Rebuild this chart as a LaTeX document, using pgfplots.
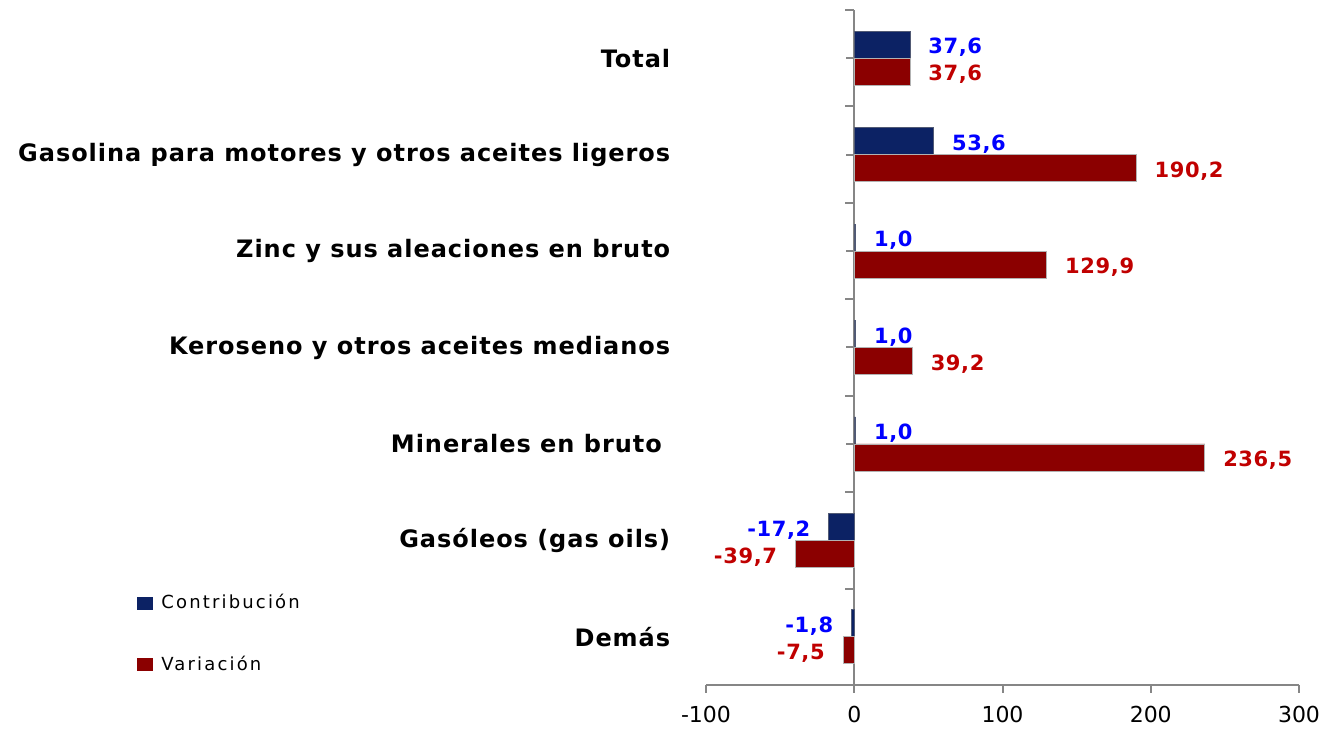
\documentclass[border=0pt]{standalone}
\usepackage{fontspec}
\setmainfont{DejaVu Sans}
\newfontfamily\catfont[LetterSpace=4]{DejaVu Sans}
\newfontfamily\legfont[LetterSpace=12]{DejaVu Sans}
\newfontfamily\valfont[LetterSpace=3]{DejaVu Sans}
\usepackage{pgfplots}
\pgfplotsset{compat=1.18}
\definecolor{barblue}{RGB}{12,34,100}
\definecolor{barred}{RGB}{139,0,0}
\definecolor{lblblue}{RGB}{0,0,255}
\definecolor{lblred}{RGB}{192,0,0}
\definecolor{axgray}{RGB}{134,134,134}

\begin{document}
\begin{tikzpicture}
\begin{axis}[
    scale only axis,
    width=296.5pt, height=337.5pt,
    xbar, bar width=13.5pt,
    xmin=-100, xmax=300,
    ymin=-0.5, ymax=6.5,
    clip=false,
    axis x line*=bottom,
    axis y line*=center,
    hide obscured x ticks=false,
    hide obscured y ticks=false,
    axis line style={axgray, line width=1pt},
    every tick/.style={axgray, line width=1pt},
    tick align=outside,
    major tick length=4pt,
    minor tick length=4.5pt,
    xtick={-100,0,100,200,300},
    ytick={0,...,6},
    minor ytick={-0.5,0.5,...,6.5},
    yticklabels={Demás, Gasóleos (gas oils), Minerales en bruto\kern0.35em, Keroseno y otros aceites medianos, Zinc y sus aleaciones en bruto, Gasolina para motores y otros aceites ligeros, Total},
    yticklabel style={font=\catfont\bfseries\fontsize{12}{14}\selectfont, anchor=east, xshift=-84.5pt},
    xticklabel style={font=\fontsize{11}{12}\selectfont, yshift=-3pt},
    /pgf/number format/assume math mode=true,
    nodes near coords={\pgfmathprintnumber[fixed,fixed zerofill,precision=1,use comma,assume math mode=true]{\pgfplotspointmeta}},
    nodes near coords align={horizontal},
    every node near coord/.append style={font=\valfont\bfseries\fontsize{10.5}{12}\selectfont, inner xsep=9pt, yshift=-1.5pt},
    legend style={at={(rel axis cs:-0.9595,0.0756)}, anchor=west, draw=none, fill=none,
        inner sep=0pt, font=\legfont\fontsize{9}{10}\selectfont, row sep=18pt,
        /tikz/every odd column/.append style={column sep=2pt}},
    legend cell align=left,
    legend image code/.code={\fill[#1, draw=none] (0pt,-3.25pt) rectangle (8pt,3.25pt);},
]
\addplot[fill=barblue, draw=barblue!40!gray, bar shift=6.75pt, nodes near coords style={text=lblblue}]
    coordinates {(37.6,6) (53.6,5) (1.0,4) (1.0,3) (1.0,2) (-17.2,1) (-1.8,0)};
\addlegendentry{Contribución}
\addplot[fill=barred, draw=gray!60, bar shift=-6.75pt, nodes near coords style={text=lblred}]
    coordinates {(37.6,6) (190.2,5) (129.9,4) (39.2,3) (236.5,2) (-39.7,1) (-7.5,0)};
\addlegendentry{Variación}
\path (rel axis cs:-1.1906,-0.0607) rectangle (rel axis cs:1.0489,1.0148);
\end{axis}
\end{tikzpicture}
\end{document}
